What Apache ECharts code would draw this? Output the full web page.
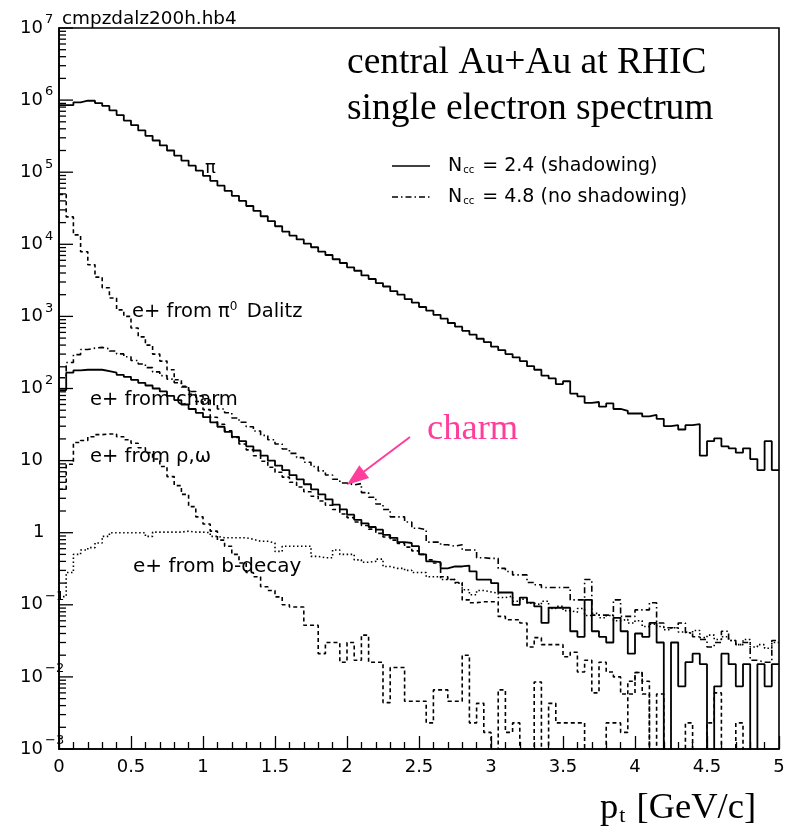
<!DOCTYPE html>
<html><head><meta charset="utf-8">
<script src="https://cdn.jsdelivr.net/npm/echarts@6/dist/echarts.min.js"></script>
<style>html,body{margin:0;padding:0;background:#fff}#c{width:788px;height:832px}</style>
</head><body><div id="c"></div>
<script>
// bin width of the histograms (GeV/c), 100 bins from 0 to 5
const BIN_WIDTH = 0.05;

// y-axis decade exponents (tick labels 10^-3 ... 10^7)
const yDecades = [-3, -2, -1, 0, 1, 2, 3, 4, 5, 6, 7];

// pion spectrum (solid, top)
const pion = [8.5e5,8.5e5,9.3e5,9.8e5,9.8e5,9.1e5,8.3e5,7.2e5,6.2e5,5.2e5,
  4.5e5,3.8e5,3.2e5,2.75e5,2.35e5,2.0e5,1.7e5,1.45e5,1.23e5,1.05e5,
  8.9e4,7.6e4,6.5e4,5.5e4,4.7e4,4.0e4,3.4e4,2.9e4,2.45e4,2.1e4,
  1.78e4,1.5e4,1.32e4,1.17e4,1.02e4,9.1e3,7.9e3,7.1e3,6.2e3,5.5e3,
  4.8e3,4.3e3,3.7e3,3.3e3,2.9e3,2.6e3,2.24e3,2.0e3,1.74e3,1.55e3,
  1.35e3,1.2e3,1.05e3,930,810,720,630,560,490,440,
  380,340,300,270,240,204,182,151,138,115,
  126,85,78,63,65,56,62,52,49,45,
  45,41,43,38,30,31,27,31,32,11.7,
  18.6,20.4,15.8,14.8,12.9,14.8,10.5,7.4,18.6,7.4];

// e+ from pi0 Dalitz (dashed)
const dalitz = [4.9e4,2.4e4,1.35e4,7.9e3,5.2e3,3.5e3,2.5e3,1.8e3,1.23e3,1.0e3,
  690,520,400,300,240,182,132,107,83,66,
  51,40,32,26,21,17,14.1,11.7,9.8,8.1,
  6.9,5.9,5.0,4.3,3.7,3.2,2.75,2.4,2.1,1.82,
  1.62,1.41,1.26,1.12,0.98,0.87,0.79,0.71,0.63,0.56,
  0.50,0.42,0.38,0.245,0.224,0.204,0.117,0.107,0.11,0.11,
  0.11,0.069,0.062,0.062,0.056,0.026,0.035,0.028,0.028,0.028,
  0.019,0.022,0.0117,0.017,0.006,0.016,0.0117,0.01,0.0058,0.0058,
  0.0115,0.0058,0,0.0058,0,0,0,0.0023,0,0,
  0.0023,0.006,0,0,0.0023,0,0,0,0,0];

// e+ from charm, N_cc = 2.4 with shadowing (solid)
const charmShadow = [95,166,178,182,182,182,174,166,155,145,
  132,120,110,100,91,79,69,60,52,46,
  40,34,29.5,25,21.4,18.6,15.8,13.8,11.7,10,
  8.5,7.4,6.3,5.5,4.7,4.0,3.4,2.9,2.45,2.1,
  1.78,1.51,1.35,1.2,1.1,0.93,0.85,0.74,0.72,0.65,
  0.50,0.40,0.39,0.32,0.34,0.34,0.35,0.29,0.224,0.224,
  0.20,0.148,0.148,0.10,0.126,0.107,0.095,0.056,0.091,0.091,
  0.091,0.043,0.036,0.117,0.043,0.036,0.030,0.066,0.043,0.021,
  0.040,0.036,0.056,0.030,0,0.030,0.0074,0.016,0.021,0.015,
  0,0.0074,0.021,0.015,0.0074,0.015,0,0.015,0.0074,0.015];

// e+ from charm, N_cc = 4.8 without shadowing (dash-dot)
const charmNoShadow = [141,229,295,347,363,372,355,331,302,275,
  245,219,195,170,151,135,120,105,91,79,
  69,60,52,46,39,34,29.5,25.7,22.4,19.5,
  17,14.5,12.6,11,9.5,8.3,7.2,6.3,5.5,4.9,
  4.6,4.8,3.6,3.1,2.5,2.1,1.66,1.66,1.41,1.15,
  1.1,0.74,0.74,0.68,0.65,0.68,0.575,0.575,0.45,0.44,
  0.44,0.32,0.29,0.26,0.26,0.204,0.19,0.174,0.174,0.174,
  0.174,0.117,0.117,0.224,0.072,0.072,0.072,0.117,0.069,0.069,
  0.085,0.085,0.107,0.056,0.048,0.048,0.056,0.041,0.036,0.033,
  0.026,0.030,0.043,0.032,0.028,0.030,0.017,0.016,0.016,0.032];

// e+ from rho, omega (dashed)
const rhoOmega = [4.0,8.9,17.8,19,21.4,22.9,23.4,23.4,21.4,19.5,
  17.4,15.1,12.9,10.5,8.3,6.0,4.5,3.4,2.3,1.66,
  1.32,1.05,0.79,0.65,0.50,0.38,0.28,0.245,0.178,0.158,
  0.129,0.10,0.093,0.093,0.052,0.052,0.021,0.030,0.030,0.016,
  0.030,0.017,0.038,0.016,0.016,0.0044,0.0135,0.0135,0.0046,0.0046,
  0.0046,0.0023,0.0066,0.0066,0.0046,0.0046,0.020,0.0023,0.0043,0.0017,
  0,0.0066,0.0017,0.0023,0,0,0.0085,0,0.0043,0.0023,
  0.0023,0.0023,0.0023,0,0,0,0.0023,0.0023,0.0017,0.0087,
  0.0115,0.0087,0,0,0,0,0,0,0,0,
  0,0,0,0,0,0,0,0,0,0];

// e+ from b decay (dotted)
const bDecay = [0.13,0.28,0.50,0.575,0.62,0.72,0.89,1.0,1.0,1.0,
  1.0,1.0,0.89,1.02,1.02,1.02,1.02,1.05,1.02,1.02,
  1.0,0.89,0.85,0.85,0.85,0.85,0.81,0.76,0.76,0.72,
  0.55,0.65,0.65,0.65,0.65,0.47,0.45,0.45,0.575,0.50,
  0.50,0.42,0.39,0.40,0.43,0.34,0.32,0.32,0.30,0.28,
  0.28,0.245,0.245,0.224,0.224,0.20,0.162,0.138,0.158,0.151,
  0.145,0.126,0.132,0.112,0.12,0.105,0.10,0.112,0.089,0.095,
  0.083,0.079,0.089,0.071,0.076,0.066,0.071,0.060,0.063,0.056,
  0.060,0.050,0.054,0.050,0.045,0.048,0.042,0.040,0.044,0.035,
  0.038,0.033,0.036,0.032,0.028,0.033,0.026,0.028,0.025,0.030];

const FONT = 'DejaVu Sans';
const SERIF = 'Liberation Serif';
const EMPTY = 1e-4; // empty bins are drawn down to below the axis floor

function histo(vals) {
  const pts = vals.map((v, i) => [i * BIN_WIDTH, v > 0 ? v : EMPTY]);
  const last = vals[vals.length - 1];
  pts.push([vals.length * BIN_WIDTH, last > 0 ? last : EMPTY]);
  return pts;
}
function line(name, vals, type, width) {
  return { name, type: 'line', step: 'end', data: histo(vals), symbol: 'none',
    clip: true, silent: true,
    lineStyle: { color: '#000', width: width || 1.6, type: type || 'solid' } };
}

// y ticks: decades (major, labelled) and 2..9 x 10^k (minor)
const yTickData = [];
yDecades.forEach(e => {
  yTickData.push([0, Math.pow(10, e), 1, e]);
  if (e < 7) for (let m = 2; m <= 9; m++) yTickData.push([0, m * Math.pow(10, e), 0, e]);
});

const chart = echarts.init(document.getElementById('c'), null, { renderer: 'canvas' });
chart.setOption({
  animation: false,
  backgroundColor: '#fff',
  grid: { left: 59, right: 9, top: 28, bottom: 83, show: true, borderColor: '#000', borderWidth: 1.6 },
  xAxis: {
    type: 'value', min: 0, max: 5, interval: 0.5,
    axisLine: { lineStyle: { color: '#000', width: 1.6 } },
    axisTick: { inside: true, length: 13, lineStyle: { color: '#000', width: 1.3 } },
    minorTick: { show: true, splitNumber: 5, length: 7, lineStyle: { color: '#000', width: 1.3 } },
    splitLine: { show: false },
    axisLabel: { color: '#000', fontFamily: FONT, fontSize: 18, margin: 9 }
  },
  yAxis: {
    type: 'log', logBase: 10, min: 1e-3, max: 1e7,
    axisLine: { lineStyle: { color: '#000', width: 1.6 } },
    axisTick: { show: false },
    axisLabel: { show: false },
    splitLine: { show: false }
  },
  series: [
    line('pi', pion, 'solid', 1.8),
    line('dalitz', dalitz, [4, 3]),
    line('charm shadowing', charmShadow, 'solid', 1.8),
    line('charm no shadowing', charmNoShadow, [6, 3, 1.5, 3]),
    line('rho omega', rhoOmega, [4, 3]),
    line('b decay', bDecay, [1.5, 2.5]),
    { type: 'custom', silent: true, data: yTickData, clip: false,
      encode: { x: 0, y: 1 },
      renderItem: (params, api) => {
        const p = api.coord([api.value(0), api.value(1)]);
        const major = api.value(2) === 1;
        const e = api.value(3);
        const children = [{ type: 'line', shape: { x1: p[0], y1: p[1], x2: p[0] + (major ? 14 : 7), y2: p[1] },
          style: { stroke: '#000', lineWidth: 1.3 } }];
        if (major) {
          if (e === 0) {
            children.push({ type: 'text', x: 33, y: p[1], style: { text: '1', fontFamily: FONT, fontSize: 18, fill: '#000', align: 'left', verticalAlign: 'middle' } });
          } else {
            children.push({ type: 'text', x: 20, y: p[1], style: { text: '10', fontFamily: FONT, fontSize: 18, fill: '#000', align: 'left', verticalAlign: 'middle' } });
            if (e !== 1) children.push({ type: 'text', x: 45, y: p[1] - 8, style: { text: e < 0 ? '\u2212' + (-e) : String(e), fontFamily: FONT, fontSize: 13, fill: '#000', align: 'left', verticalAlign: 'middle' } });
          }
        }
        return { type: 'group', children };
      } }
  ],
  graphic: [
    { type: 'text', x: 62, y: 19, style: { text: 'cmpzdalz200h.hb4', fontFamily: FONT, fontSize: 18.4, fill: '#000', align: 'left', verticalAlign: 'middle' } },
    { type: 'text', x: 347, y: 63, style: { text: 'central Au+Au at RHIC', fontFamily: SERIF, fontSize: 37.5, fill: '#000', align: 'left', verticalAlign: 'middle' } },
    { type: 'text', x: 347, y: 109, style: { text: 'single electron spectrum', fontFamily: SERIF, fontSize: 37.5, fill: '#000', align: 'left', verticalAlign: 'middle' } },
    { type: 'line', shape: { x1: 392, y1: 166, x2: 430, y2: 166 }, style: { stroke: '#000', lineWidth: 1.6 } },
    { type: 'line', shape: { x1: 392, y1: 197, x2: 430, y2: 197 }, style: { stroke: '#000', lineWidth: 1.6, lineDash: [6, 3, 1.5, 3] } },
    { type: 'text', x: 448, y: 166, style: { text: 'N{sub|cc} = 2.4 (shadowing)', fontFamily: FONT, fontSize: 19, fill: '#000', align: 'left', verticalAlign: 'middle',
      rich: { sub: { fontFamily: FONT, fontSize: 10, fill: '#000', padding: [9, 2, 0, 1] } } } },
    { type: 'text', x: 448, y: 197, style: { text: 'N{sub|cc} = 4.8 (no shadowing)', fontFamily: FONT, fontSize: 19, fill: '#000', align: 'left', verticalAlign: 'middle',
      rich: { sub: { fontFamily: FONT, fontSize: 10, fill: '#000', padding: [9, 2, 0, 1] } } } },
    { type: 'text', x: 205, y: 168, style: { text: '\u03c0', fontFamily: FONT, fontSize: 18, fill: '#000', align: 'left', verticalAlign: 'middle' } },
    { type: 'text', x: 132, y: 312, style: { text: 'e+ from \u03c0{sup|0} Dalitz', fontFamily: FONT, fontSize: 19.5, fill: '#000', align: 'left', verticalAlign: 'middle',
      rich: { sup: { fontFamily: FONT, fontSize: 12, fill: '#000', padding: [0, 3, 11, 0] } } } },
    { type: 'text', x: 90, y: 400, style: { text: 'e+ from charm', fontFamily: FONT, fontSize: 19.5, fill: '#000', align: 'left', verticalAlign: 'middle' } },
    { type: 'text', x: 90, y: 457, style: { text: 'e+ from \u03c1,\u03c9', fontFamily: FONT, fontSize: 19.5, fill: '#000', align: 'left', verticalAlign: 'middle' } },
    { type: 'text', x: 133, y: 567, style: { text: 'e+ from b-decay', fontFamily: FONT, fontSize: 20, fill: '#000', align: 'left', verticalAlign: 'middle' } },
    { type: 'text', x: 427, y: 429, style: { text: 'charm', fontFamily: SERIF, fontSize: 36.5, fill: '#ff3d9a', align: 'left', verticalAlign: 'middle' } },
    { type: 'line', shape: { x1: 410, y1: 437, x2: 362, y2: 473 }, style: { stroke: '#ff3d9a', lineWidth: 2 } },
    { type: 'polygon', shape: { points: [[346.7, 485], [369.1, 478], [359.3, 465.2]] }, style: { fill: '#ff3d9a' } },
    { type: 'text', x: 600, y: 808, style: { text: 'p{sub|t} [GeV/c]', fontFamily: SERIF, fontSize: 36.5, fill: '#000', align: 'left', verticalAlign: 'middle',
      rich: { sub: { fontFamily: SERIF, fontSize: 22, fill: '#000', padding: [16, 2, 0, 1] } } } }
  ]
});
</script></body></html>
